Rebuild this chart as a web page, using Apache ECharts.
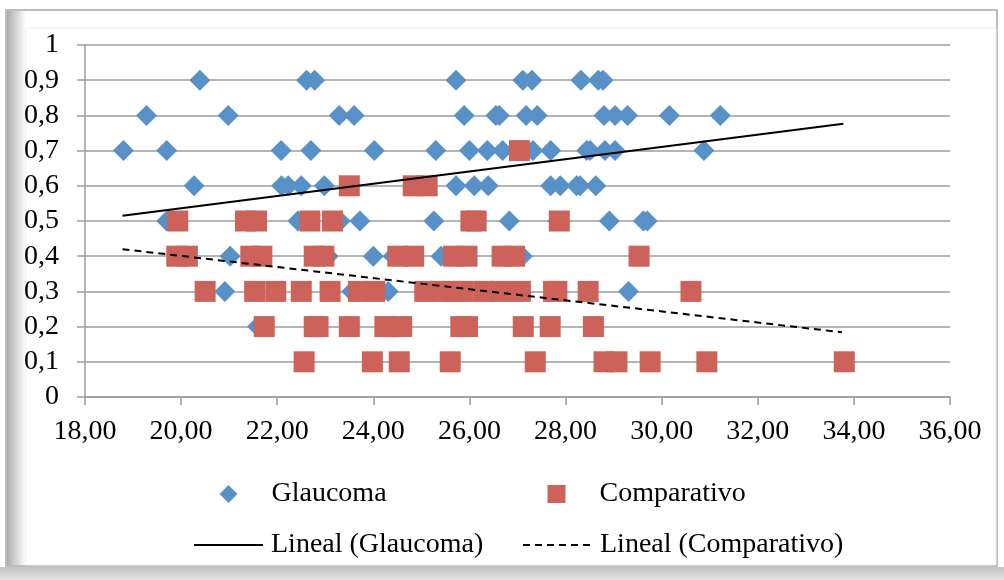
<!DOCTYPE html>
<html>
<head>
<meta charset="utf-8">
<style>
  html, body { margin: 0; padding: 0; background: #ffffff; }
  #chart { width: 1004px; height: 580px; }
</style>
<script src="https://cdn.jsdelivr.net/npm/echarts@6/dist/echarts.min.js"></script>
</head>
<body>
<div id="chart"></div>
<script>
// Glaucoma group: [x, y]
const glaucoma = [
  [20.39, 0.9], [22.61, 0.9], [22.78, 0.9], [25.72, 0.9], [27.11, 0.9], [27.30, 0.9], [28.32, 0.9], [28.68, 0.9], [28.78, 0.9],
  [19.28, 0.8], [20.98, 0.8], [23.29, 0.8], [23.60, 0.8], [25.89, 0.8], [26.55, 0.8], [26.62, 0.8], [27.18, 0.8], [27.41, 0.8],
  [28.80, 0.8], [29.03, 0.8], [29.29, 0.8], [30.16, 0.8], [31.22, 0.8],
  [18.80, 0.7], [19.70, 0.7], [22.08, 0.7], [22.70, 0.7], [24.02, 0.7], [25.30, 0.7], [26.00, 0.7], [26.37, 0.7], [26.69, 0.7],
  [27.32, 0.7], [27.69, 0.7], [28.44, 0.7], [28.51, 0.7], [28.82, 0.7], [29.03, 0.7], [30.88, 0.7],
  [20.27, 0.6], [22.09, 0.6], [22.23, 0.6], [22.50, 0.6], [22.98, 0.6], [25.72, 0.6], [26.10, 0.6], [26.39, 0.6],
  [27.69, 0.6], [27.89, 0.6], [28.23, 0.6], [28.30, 0.6], [28.63, 0.6],
  [19.70, 0.5], [22.43, 0.5], [23.31, 0.5], [23.72, 0.5], [25.26, 0.5], [26.83, 0.5], [27.84, 0.5], [28.91, 0.5], [29.62, 0.5], [29.70, 0.5],
  [21.02, 0.4], [23.06, 0.4], [24.00, 0.4], [24.41, 0.4], [25.41, 0.4], [27.10, 0.4],
  [20.91, 0.3], [23.55, 0.3], [24.31, 0.3], [29.31, 0.3],
  [21.59, 0.2]
];

// Comparativo group: [x, y]
const comparativo = [
  [27.04, 0.7],
  [23.50, 0.6], [24.83, 0.6], [25.12, 0.6],
  [19.93, 0.5], [21.34, 0.5], [21.57, 0.5], [22.68, 0.5], [23.15, 0.5], [26.03, 0.5], [26.14, 0.5], [27.87, 0.5],
  [19.91, 0.4], [20.13, 0.4], [21.45, 0.4], [21.68, 0.4], [22.77, 0.4], [22.97, 0.4], [24.51, 0.4], [24.84, 0.4],
  [25.67, 0.4], [25.95, 0.4], [26.68, 0.4], [26.94, 0.4], [29.53, 0.4],
  [20.50, 0.3], [21.53, 0.3], [21.97, 0.3], [22.50, 0.3], [23.10, 0.3], [23.69, 0.3], [24.03, 0.3], [25.07, 0.3],
  [25.39, 0.3], [25.67, 0.3], [25.87, 0.3], [26.30, 0.3], [26.64, 0.3], [27.06, 0.3], [27.75, 0.3], [27.82, 0.3],
  [28.47, 0.3], [30.61, 0.3],
  [21.73, 0.2], [22.77, 0.2], [22.85, 0.2], [23.50, 0.2], [24.24, 0.2], [24.59, 0.2], [25.82, 0.2], [25.96, 0.2],
  [27.12, 0.2], [27.68, 0.2], [28.58, 0.2],
  [22.56, 0.1], [23.98, 0.1], [24.54, 0.1], [25.60, 0.1], [27.37, 0.1], [28.80, 0.1], [29.07, 0.1], [29.76, 0.1],
  [30.94, 0.1], [33.80, 0.1]
];

// Linear trend lines (end points)
const glaucomaTrend = [[18.78, 0.515], [33.78, 0.776]];
const comparativoTrend = [[18.78, 0.42], [33.75, 0.184]];

// Axis ranges and tick steps
const xTicks = { min: 18, max: 36, step: 2 };
const yTicks = { min: 0, max: 1, step: 0.1 };

const seriesNames = ['Glaucoma', 'Comparativo', 'Lineal (Glaucoma)', 'Lineal (Comparativo)'];

const FONT = 'Liberation Serif';
const FSIZE = 28;
const BLUE = '#5891c8';
const RED = '#cd625b';
const GRID = '#9d9d9d';

const chart = echarts.init(document.getElementById('chart'), null, { renderer: 'canvas' });

// marker entries: 18px icon centred in a 69px slot; line entries: full 69px slot
function markerLegend(name, iconType, slotLeft, top) {
  return {
    data: [{ name: name, icon: iconType }],
    left: slotLeft + 25.5, top: top,
    itemWidth: 18, itemHeight: 18,
    padding: 0,
    selectedMode: false,
    itemStyle: { opacity: 1 },
    textStyle: { fontFamily: FONT, fontSize: FSIZE, color: '#000', padding: [0, 0, 0, 29] }
  };
}
function lineLegend(name, slotLeft, top) {
  return {
    data: [name],
    left: slotLeft, top: top,
    itemWidth: 69, itemHeight: 18,
    padding: 0,
    selectedMode: false,
    itemStyle: { opacity: 0 },
    textStyle: { fontFamily: FONT, fontSize: FSIZE, color: '#000', padding: [0, 0, 0, 3] }
  };
}

chart.setOption({
  animation: false,
  backgroundColor: '#ffffff',
  graphic: [
    { type: 'rect', z: -10, shape: { x: 0, y: 567, width: 1004, height: 13 },
      style: { fill: new echarts.graphic.LinearGradient(0, 0, 0, 1, [
        { offset: 0, color: '#c4c4c4' }, { offset: 1, color: '#e4e4e4' }]) } },
    { type: 'rect', z: -9, shape: { x: 6, y: 10, width: 991, height: 556 },
      style: { fill: '#ffffff', stroke: '#a8a8a8', lineWidth: 1.5 } },
    { type: 'rect', z: -8, shape: { x: 7, y: 11, width: 19, height: 554 },
      style: { fill: new echarts.graphic.LinearGradient(0, 0, 1, 0, [
        { offset: 0, color: '#acacac' }, { offset: 1, color: '#ffffff' }]) } },
    { type: 'rect', z: -7, shape: { x: 26, y: 28, width: 970, height: 537 },
      style: { fill: 'none', stroke: '#efefef', lineWidth: 1 } }
  ],
  grid: { left: 85, right: 54, top: 45, bottom: 183, containLabel: false },
  legend: [
    markerLegend(seriesNames[0], 'diamond', 194, 480),
    markerLegend(seriesNames[1], 'rect', 522, 480),
    lineLegend(seriesNames[2], 193, 531),
    lineLegend(seriesNames[3], 522, 531)
  ],
  xAxis: {
    type: 'value',
    min: xTicks.min, max: xTicks.max, interval: xTicks.step,
    axisLine: { show: true, onZero: false, lineStyle: { color: GRID, width: 1.5 } },
    axisTick: { show: true, inside: false, length: 8, lineStyle: { color: GRID, width: 1.5 } },
    splitLine: { show: false },
    axisLabel: {
      margin: 21,
      fontFamily: FONT, fontSize: FSIZE, color: '#000',
      formatter: v => v.toFixed(2).replace('.', ',')
    }
  },
  yAxis: {
    type: 'value',
    min: yTicks.min, max: yTicks.max, interval: yTicks.step,
    axisLine: { show: true, lineStyle: { color: GRID, width: 1.5 } },
    axisTick: { show: true, inside: false, length: 8, lineStyle: { color: GRID, width: 1.5 } },
    splitLine: { show: true, lineStyle: { color: GRID, width: 1.5 } },
    axisLabel: {
      margin: 26,
      fontFamily: FONT, fontSize: FSIZE, color: '#000',
      formatter: v => {
        const r = Math.round(v * 10) / 10;
        if (r === 0) return '0';
        if (r === 1) return '1';
        return r.toFixed(1).replace('.', ',');
      }
    }
  },
  series: [
    {
      name: seriesNames[0], type: 'scatter',
      symbol: 'diamond', symbolSize: 21,
      itemStyle: { color: BLUE, opacity: 1 },
      data: glaucoma, z: 2
    },
    {
      name: seriesNames[1], type: 'scatter',
      symbol: 'rect', symbolSize: 21,
      itemStyle: { color: RED, opacity: 1 },
      data: comparativo, z: 3
    },
    {
      name: seriesNames[2], type: 'line',
      symbol: 'none', showSymbol: false,
      lineStyle: { color: '#000', width: 2, type: 'solid' },
      itemStyle: { color: '#000' },
      data: glaucomaTrend, z: 4
    },
    {
      name: seriesNames[3], type: 'line',
      symbol: 'none', showSymbol: false,
      lineStyle: { color: '#000', width: 2, type: [7, 5] },
      itemStyle: { color: '#000' },
      data: comparativoTrend, z: 4
    }
  ]
});
</script>
</body>
</html>
